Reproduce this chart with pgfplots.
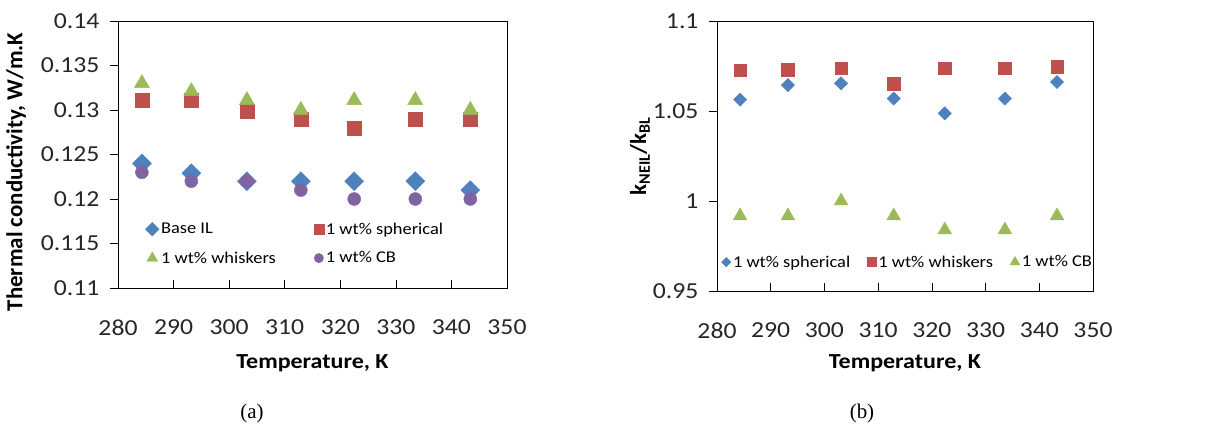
\documentclass[border=0pt]{standalone}
\usepackage{fontspec}
\setmainfont{Carlito}[FakeStretch=1.12]
\newfontfamily\plainf{Carlito}
\newfontfamily\timesf{Liberation Serif}
\usepackage{pgfplots}
\pgfplotsset{compat=1.18}

\definecolor{cblue}{HTML}{4F81BD}
\definecolor{cred}{HTML}{C0504D}
\definecolor{cgreen}{HTML}{9BBB59}
\definecolor{cpurple}{HTML}{8064A2}

\pgfplotsset{
  panel/.style={
    scale only axis,
    anchor=south west,
    xmin=280, xmax=350,
    xtick={280,290,300,310,320,330,340,350},
    xtick pos=bottom, ytick pos=left,
    tick align=inside,
    major tick length=8bp,
    major y tick style={xshift=-8bp},
    tick style={black, line width=0.6bp},
    axis line style={black, line width=0.8bp},
    /pgf/number format/assume math mode=true,
    ticklabel style={font=\fontsize{23}{27}\selectfont, text=black!85},
    xticklabel style={yshift=-28bp},
    yticklabel style={xshift=-15bp},
    xlabel style={font=\fontsize{21.5}{25}\selectfont\bfseries},
    ylabel style={font=\plainf\fontsize{23}{27}\selectfont\bfseries},
    legend style={draw=none, fill=none, font=\fontsize{16.5}{20}\selectfont,
      inner sep=2bp, nodes={inner xsep=2bp}},
    legend cell align=left,
    legend image code/.code={\draw[##1, /tikz/every mark/.append style={scale=0.72}] plot coordinates {(0bp,0bp)};},
  },
  sdia/.style={only marks, mark=square*, color=cblue, mark options={rotate=45}},
}

\begin{document}
\begin{tikzpicture}
\useasboundingbox (0,0) rectangle (1215bp,427bp);

% (a) thermal conductivity
\begin{axis}[panel,
  at={(118bp,139bp)}, width=389bp, height=267bp,
  ymin=0.11, ymax=0.14,
  ytick={0.11,0.115,0.12,0.125,0.13,0.135,0.14},
  yticklabels={0.11,0.115,0.12,0.125,0.13,0.135,0.14},
  xlabel={Temperature, K},
  xlabel style={at={(axis description cs:0.5,-0.28)}, anchor=center},
  ylabel={Thermal conductivity, W/m.K},
  ylabel style={at={(axis description cs:-0.262,0.435)}, anchor=center},
  legend columns=2,
  legend style={at={(axis description cs:0.065,0.26)}, anchor=north west,
    /tikz/every even column/.append style={column sep=36bp}, /tikz/row sep=12bp},
]
\addplot[sdia, mark size=6.7bp] coordinates {
  (284.3,0.1240)(293.2,0.1229)(303.2,0.1220)(312.9,0.1220)(322.5,0.1220)(333.5,0.1220)(343.4,0.1210)};
\addplot[only marks, mark=square*, color=cred, mark size=7bp] coordinates {
  (284.3,0.1311)(293.2,0.1311)(303.2,0.1299)(312.9,0.1290)(322.5,0.1280)(333.5,0.1290)(343.4,0.1290)};
\addplot[only marks, mark=triangle*, color=cgreen, mark size=8.7bp] coordinates {
  (284.3,0.1330)(293.2,0.1321)(303.2,0.1311)(312.9,0.1300)(322.5,0.1311)(333.5,0.1311)(343.4,0.1300)};
\addplot[only marks, mark=*, color=cpurple, mark size=6.5bp] coordinates {
  (284.3,0.1230)(293.2,0.1220)(303.2,0.1220)(312.9,0.1210)(322.5,0.1200)(333.5,0.1200)(343.4,0.1200)};
\legend{Base IL, 1 wt\% spherical, 1 wt\% whiskers, 1 wt\% CB}
\end{axis}

% (b) ratio
\begin{axis}[panel,
  at={(717bp,136bp)}, width=376bp, height=270bp,
  ymin=0.95, ymax=1.1,
  ytick={0.95,1,1.05,1.1},
  yticklabels={0.95,1,1.05,1.1},
  xlabel={Temperature, K},
  xlabel style={at={(axis description cs:0.5,-0.267)}, anchor=center},
  ylabel={k\textsubscript{NEIL}/k\textsubscript{BL}},
  ylabel style={at={(axis description cs:-0.205,0.5)}, anchor=center},
  legend columns=3,
  legend style={at={(axis description cs:0.006,0.107)}, anchor=west,
    /tikz/every even column/.append style={column sep=15bp}},
]
\addplot[sdia, mark size=4.7bp] coordinates {
  (284.3,1.0563)(293.2,1.0644)(303.1,1.0654)(312.9,1.0569)(322.4,1.0487)(333.6,1.0569)(343.3,1.0661)};
\addplot[only marks, mark=square*, color=cred, mark size=6.3bp] coordinates {
  (284.3,1.0726)(293.2,1.0731)(303.1,1.0737)(312.9,1.0652)(322.4,1.0737)(333.6,1.0737)(343.3,1.0746)};
\addplot[only marks, mark=triangle*, color=cgreen, mark size=8bp] coordinates {
  (284.3,0.9917)(293.2,0.9917)(303.1,1.0000)(312.9,0.9917)(322.4,0.9839)(333.6,0.9839)(343.3,0.9917)};
\legend{1 wt\% spherical, 1 wt\% whiskers, 1 wt\% CB}
\end{axis}

\node[font=\timesf\fontsize{21}{24}\selectfont] at (252bp,14bp) {(a)};
\node[font=\timesf\fontsize{21}{24}\selectfont] at (862bp,14bp) {(b)};
\end{tikzpicture}
\end{document}
